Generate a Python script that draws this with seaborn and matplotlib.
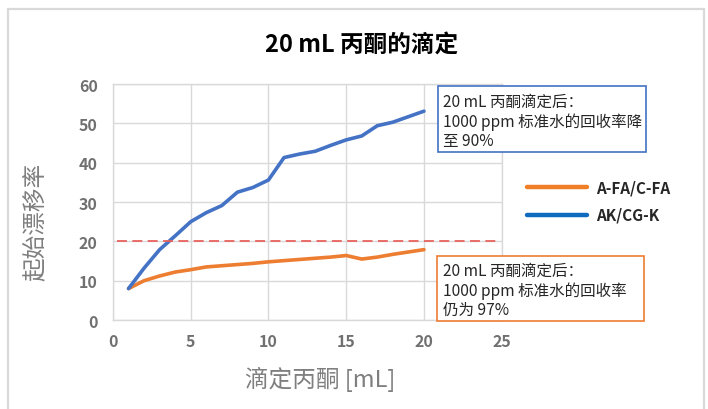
import numpy as np
import pandas as pd
import matplotlib
matplotlib.use("Agg")
import matplotlib.pyplot as plt
import seaborn as sns
from matplotlib.lines import Line2D
from matplotlib.patches import Rectangle

# --- datos ---
aceton_ml = [1, 2, 3, 4, 5, 6, 7, 8, 9, 10, 11, 12, 13, 14, 15, 16, 17, 18, 19, 20]
drift_afa = [8.0, 10.0, 11.2, 12.2, 12.8, 13.5, 13.8, 14.1, 14.4, 14.8,
             15.1, 15.4, 15.7, 16.0, 16.4, 15.5, 16.0, 16.7, 17.3, 17.9]
drift_akk = [8.0, 13.2, 17.9, 21.4, 25.0, 27.3, 29.1, 32.5, 33.7, 35.6,
             41.3, 42.2, 42.9, 44.4, 45.8, 46.8, 49.4, 50.3, 51.7, 53.1]
series = ["A-FA/C-FA", "AK/CG-K"]
limite = 20
x_ticks = [0, 5, 10, 15, 20, 25]
y_ticks = [0, 10, 20, 30, 40, 50, 60]

titulo = "20 mL 丙酮的滴定"
x_label = "滴定丙酮 [mL]"
y_label = "起始漂移率"
nota_akk = "20 mL 丙酮滴定后：\n1000 ppm 标准水的回收率降\n至 90%"
nota_afa = "20 mL 丙酮滴定后：\n1000 ppm 标准水的回收率\n仍为 97%"

df = pd.DataFrame({
    "ml": aceton_ml * 2,
    "drift": drift_afa + drift_akk,
    "serie": [series[0]] * len(aceton_ml) + [series[1]] * len(aceton_ml),
})

sns.set_style("white")
plt.rcParams["font.family"] = ["Noto Sans CJK SC", "DejaVu Sans"]

fig = plt.figure(figsize=(7.08, 4.10), dpi=100)
ax = fig.add_axes([0.1596, 0.217, 0.549, 0.5756])

colores = {"A-FA/C-FA": "#ED7D31", "AK/CG-K": "#4472C4"}
sns.lineplot(data=df, x="ml", y="drift", hue="serie", palette=colores,
             linewidth=2.6, legend=False, ax=ax)
ax.axhline(limite, xmin=0.01, xmax=0.99, color="#E8625C", linewidth=1.3,
           dashes=(5.5, 3))

ax.set_xlim(0, 25)
ax.set_ylim(0, 60)
ax.set_xticks(x_ticks)
ax.set_yticks(y_ticks)
ax.grid(True, color="#d9d9d9", linewidth=1)
for s in ax.spines.values():
    s.set_color("#d9d9d9")
    s.set_linewidth(1)
ax.tick_params(length=0, labelsize=11.5, labelcolor="#707070")
ax.tick_params(axis="x", pad=9)
ax.tick_params(axis="y", pad=11)
for t in ax.get_xticklabels() + ax.get_yticklabels():
    t.set_fontweight("bold")

ax.set_xlabel(x_label, fontsize=17, color="#7f7f7f")
ax.set_ylabel(y_label, fontsize=17, color="#7f7f7f")
ax.xaxis.set_label_coords(0.532, -0.195)
ax.yaxis.set_label_coords(-0.167, 0.42)

fig.text(0.511, 0.89, titulo, ha="center", va="center", fontsize=17,
         fontweight="bold", color="black")

# leyenda fuera del área de trazado
handles = [Line2D([0], [0], color="#F07E26", linewidth=3.2),
           Line2D([0], [0], color="#0E6BBE", linewidth=3.2)]
leg = fig.legend(handles, series, loc="center left",
                 bbox_to_anchor=(0.725, 0.507), frameon=False,
                 handlelength=3.9, handletextpad=0.6, labelspacing=0.75,
                 prop={"size": 11, "weight": "bold"})
for t in leg.get_texts():
    t.set_color("#262626")

# cuadros de notas
fig.add_artist(Rectangle((0.6186, 0.6268), 0.2938, 0.161, transform=fig.transFigure,
                         facecolor="white", edgecolor="#4472C4", linewidth=1.2))
fig.add_artist(Rectangle((0.6172, 0.2146), 0.2924, 0.1585, transform=fig.transFigure,
                         facecolor="white", edgecolor="#ED7D31", linewidth=1.2))
fig.text(0.6257, 0.771, nota_akk, ha="left", va="top", fontsize=11.2,
         color="#262626", linespacing=1.18)
fig.text(0.6257, 0.359, nota_afa, ha="left", va="top", fontsize=11.2,
         color="#262626", linespacing=1.18)

# marco exterior del gráfico
fig.add_artist(Rectangle((8 / 708, -0.1), 696 / 708, 1.1 - 10 / 410,
                         transform=fig.transFigure, facecolor="none",
                         edgecolor="#d9d9d9", linewidth=1.6))

fig.savefig("out.png", dpi=100)
